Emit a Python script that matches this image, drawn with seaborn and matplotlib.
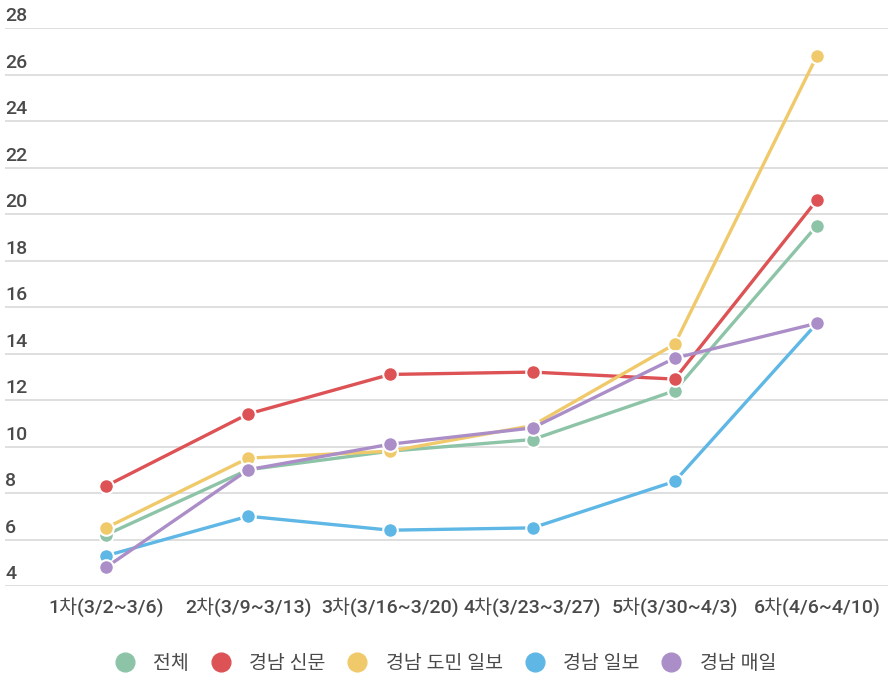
import pandas as pd
import numpy as np
import matplotlib.pyplot as plt
import seaborn as sns
from matplotlib.lines import Line2D

# weekly rounds and values per newspaper
rounds = ['1차(3/2~3/6)', '2차(3/9~3/13)', '3차(3/16~3/20)', '4차(3/23~3/27)',
          '5차(3/30~4/3)', '6차(4/6~4/10)']
total      = [6.2, 9.0, 9.8, 10.3, 12.4, 19.5]
gn_sinmun  = [8.3, 11.4, 13.1, 13.2, 12.9, 20.6]
gn_domin   = [6.5, 9.5, 9.8, 10.9, 14.4, 26.8]
gn_ilbo    = [5.3, 7.0, 6.4, 6.5, 8.5, 15.3]
gn_maeil   = [4.8, 9.0, 10.1, 10.8, 13.8, 15.3]

series_names = ['전체', '경남 신문', '경남 도민 일보', '경남 일보', '경남 매일']
series_vals = [total, gn_sinmun, gn_domin, gn_ilbo, gn_maeil]
colors = ['#8dc4a8', '#dd5255', '#f0ca6a', '#5fb7e5', '#ab8ec8']
yticks = [4, 6, 8, 10, 12, 14, 16, 18, 20, 22, 24, 26, 28]

rows = []
for name, vals in zip(series_names, series_vals):
    for i, v in enumerate(vals):
        rows.append({'round': i, 'value': v, 'series': name})
df = pd.DataFrame(rows)

sns.set_style('white')
plt.rcParams['font.family'] = ['Roboto', 'Noto Sans CJK KR', 'DejaVu Sans']

W, H = 891, 681
txt_color = '#4a4a4a'
fig = plt.figure(figsize=(W / 100, H / 100), dpi=100)
ax = fig.add_axes([5 / W, 1 - 586 / H, 883 / W, (586 - 28) / H])

sns.lineplot(data=df, x='round', y='value', hue='series', hue_order=series_names,
             palette=colors, marker='o', markersize=10.5, markeredgecolor='white',
             markeredgewidth=1.5, linewidth=2.4, sort=False, legend=False, ax=ax)

ax.set_xlim(-0.71, 5.5)
ax.set_ylim(4, 28)
ax.set_yticks(yticks)
ax.grid(axis='y', color='#dcdcdc', linewidth=1.3)
ax.set_axisbelow(True)
for s in ax.spines.values():
    s.set_visible(False)
ax.tick_params(axis='both', length=0)
ax.set_yticklabels([])
for t in yticks:
    ax.text(0.0, t + 0.12, str(t), transform=ax.get_yaxis_transform(),
            ha='left', va='bottom', fontsize=14, color=txt_color, fontweight='medium')
ax.set_xticks(range(len(rounds)))
ax.set_xticklabels(rounds, fontsize=14, color=txt_color, fontweight='medium')
ax.tick_params(axis='x', pad=8)
ax.set_xlabel('')
ax.set_ylabel('')

handles = [Line2D([], [], linestyle='none', marker='o', markersize=13.5,
                  markerfacecolor=c, markeredgecolor=c) for c in colors]
fig.legend(handles, series_names, loc='center', bbox_to_anchor=(0.5, 1 - 664 / H),
           ncol=5, frameon=False, handlelength=1.0, handletextpad=0.95,
           columnspacing=1.15, labelcolor=txt_color,
           prop={'size': 14, 'weight': 'medium'})

fig.savefig('out.png', dpi=100)
